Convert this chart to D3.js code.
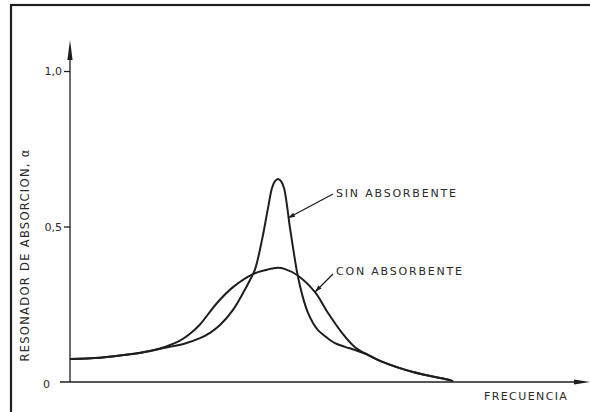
<!DOCTYPE html>
<html><head><meta charset="utf-8">
<script src="https://cdn.jsdelivr.net/npm/d3@7"></script>
<style>body{margin:0;background:#fff}svg{display:block}</style>
</head><body>
<script>
// Data (frequency in arbitrary units, absorption coefficient α)
const sinFreq = [0,6,12,16,19,23,26,28,30,32.6,34.6,36,37,38.4,39.6,40.4,41,41.6,42.2,42.8,44,44.8,45.4,46,46.8,47.6,48.6,49.6,51.2,53,55,57,59.6,62,68.6,76,76.6];
const sinAlpha = [0.074,0.078,0.089,0.100,0.110,0.124,0.141,0.158,0.183,0.232,0.286,0.328,0.362,0.457,0.559,0.624,0.646,0.653,0.646,0.624,0.495,0.412,0.354,0.309,0.260,0.222,0.190,0.167,0.145,0.125,0.113,0.103,0.087,0.068,0.032,0.006,0.003];
const conFreq = [0,6,12,16,19,22,24,26,29.4,32.6,36.6,39.4,41.6,43,45.4,49,51.6,54.4,57,59.6,62,68.6,76,76.6];
const conAlpha = [0.074,0.078,0.089,0.100,0.113,0.133,0.155,0.185,0.254,0.305,0.347,0.361,0.367,0.363,0.344,0.289,0.222,0.158,0.112,0.087,0.068,0.032,0.006,0.003];
const yTicks = [0, 0.5, 1.0];
const yTickLabels = ["0", "0,5", "1,0"];
const seriesLabels = ["SIN ABSORBENTE", "CON ABSORBENTE"];
const xLabel = "FRECUENCIA";
const yLabel = "RESONADOR DE ABSORCION, α";

const W = 590, H = 412;
const svg = d3.select("body").append("svg").attr("width", W).attr("height", H);
const ink = "#1e1e1e";
const txt = "#2a2a2a";

// frame
svg.append("rect").attr("x", 11).attr("y", 5).attr("width", 590).attr("height", 420)
  .attr("fill", "none").attr("stroke", ink).attr("stroke-width", 2.2);

const x = d3.scaleLinear().domain([0, 100]).range([70, 570]);
const y = d3.scaleLinear().domain([0, 1]).range([382, 71]);

// axes lines
svg.append("line").attr("x1", 60).attr("x2", 578).attr("y1", y(0)).attr("y2", y(0))
  .attr("stroke", ink).attr("stroke-width", 1.3);
svg.append("line").attr("x1", x(0)).attr("x2", x(0)).attr("y1", y(0)).attr("y2", 52)
  .attr("stroke", ink).attr("stroke-width", 1.3);
// arrowheads
svg.append("path").attr("d", `M${x(0)},40 L${x(0)-2.6},60 L${x(0)+2.6},60 Z`).attr("fill", ink);
svg.append("path").attr("d", `M590,${y(0)} L574,${y(0)-2.6} L574,${y(0)+2.6} Z`).attr("fill", ink);

// y ticks
const yAxis = d3.axisLeft(y).tickValues(yTicks).tickSize(6).tickFormat((d,i) => yTickLabels[i]);
const ga = svg.append("g").attr("transform", `translate(${x(0)},0)`).call(yAxis);
ga.select(".domain").remove();
ga.selectAll(".tick line").attr("stroke", ink).attr("stroke-width", 1.3);
ga.selectAll(".tick text").attr("fill", txt).attr("font-family", "DejaVu Sans")
  .attr("font-size", 11).attr("x", -8).attr("dy", "0.35em");
ga.selectAll(".tick").filter(d => d === 0).select("text").attr("x", -20).attr("dy", "0.5em");
ga.selectAll(".tick").filter(d => d === 0).select("line").remove();

// curves
const line = d3.line().x(d => x(d[0])).y(d => y(d[1])).curve(d3.curveCatmullRom.alpha(0.5));
const sinData = sinFreq.map((f, i) => [f, sinAlpha[i]]);
const conData = conFreq.map((f, i) => [f, conAlpha[i]]);
[sinData, conData].forEach(d => {
  svg.append("path").datum(d).attr("d", line).attr("fill", "none")
    .attr("stroke", ink).attr("stroke-width", 2).attr("stroke-linejoin", "round");
});

// labels with leader arrows
const lblFont = {family: "DejaVu Sans", size: 11};
function leader(x1, y1, x2, y2) {
  svg.append("line").attr("x1", x1).attr("y1", y1).attr("x2", x2).attr("y2", y2)
    .attr("stroke", ink).attr("stroke-width", 1.3);
  const a = Math.atan2(y2 - y1, x2 - x1), L = 7, w = 2.2;
  const bx = x2 - L * Math.cos(a), by = y2 - L * Math.sin(a);
  const px = -Math.sin(a) * w, py = Math.cos(a) * w;
  svg.append("path").attr("d", `M${x2},${y2} L${bx+px},${by+py} L${bx-px},${by-py} Z`).attr("fill", ink);
}
leader(333, 194, 288, 218);
leader(333, 274, 315, 292);
svg.append("text").attr("x", 336).attr("y", 197).text(seriesLabels[0])
  .attr("font-family", lblFont.family).attr("font-size", lblFont.size).attr("letter-spacing", 1.8).attr("fill", txt);
svg.append("text").attr("x", 336).attr("y", 275).text(seriesLabels[1])
  .attr("font-family", lblFont.family).attr("font-size", lblFont.size).attr("letter-spacing", 1.8).attr("fill", txt);

// axis titles
svg.append("text").attr("x", 484).attr("y", 400).text(xLabel)
  .attr("font-family", "DejaVu Sans").attr("font-size", 11).attr("letter-spacing", 1.4).attr("fill", txt);
svg.append("text").attr("transform", "translate(29,255) rotate(-90)").attr("text-anchor", "middle")
  .text(yLabel).attr("font-family", "DejaVu Sans").attr("font-size", 11.5).attr("letter-spacing", 1.3).attr("fill", txt);
</script>
</body></html>
